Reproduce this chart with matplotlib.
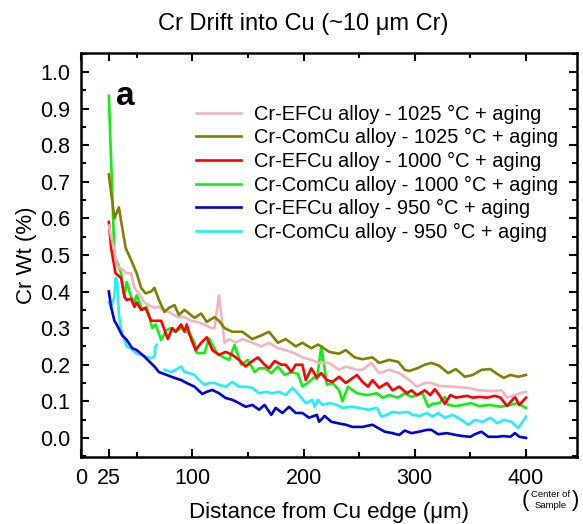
import matplotlib
matplotlib.use("Agg")
import matplotlib.pyplot as plt
import numpy as np
from matplotlib.ticker import MultipleLocator, FixedLocator, FormatStrFormatter

plt.rcParams['font.family'] = ['Liberation Sans', 'DejaVu Sans']

# ---- data ----
labels = [
    "Cr-EFCu alloy - 1025 °C + aging",
    "Cr-ComCu alloy - 1025 °C + aging",
    "Cr-EFCu alloy - 1000 °C + aging",
    "Cr-ComCu alloy - 1000 °C + aging",
    "Cr-EFCu alloy - 950 °C + aging",
    "Cr-ComCu alloy - 950 °C + aging",
]
colors = ["#f4b4be", "#808000", "#ff0000", "#11ee11", "#0000dd", "#22eeff"]

efcu1025_x = [25, 30, 32, 37, 41, 45, 48, 52, 57, 61,
              66, 70, 75, 81, 87, 93, 99, 104, 111, 117,
              120, 124, 129, 133, 139, 145, 154, 162, 169, 177,
              184, 193, 199, 207, 214, 223, 232, 238, 248, 253,
              261, 268, 277, 286, 295, 302, 309, 315, 322, 334,
              347, 358, 370, 378, 383, 388, 394, 400]
efcu1025_y = [0.58, 0.51, 0.47, 0.46, 0.45, 0.45, 0.41, 0.395, 0.37, 0.363,
              0.355, 0.358, 0.35, 0.34, 0.33, 0.33, 0.32, 0.317, 0.31, 0.30,
              0.30, 0.39, 0.26, 0.27, 0.26, 0.27, 0.26, 0.25, 0.26, 0.245,
              0.24, 0.23, 0.22, 0.213, 0.205, 0.205, 0.186, 0.195, 0.186, 0.186,
              0.205, 0.177, 0.186, 0.177, 0.158, 0.14, 0.15, 0.15, 0.142, 0.14,
              0.137, 0.13, 0.128, 0.13, 0.11, 0.115, 0.122, 0.126]

comcu1025_x = [25, 30, 34, 40, 45, 50, 54, 58, 63, 66,
               70, 75, 79, 84, 88, 93, 97, 102, 108, 113,
               120, 124, 129, 136, 145, 154, 162, 169, 177, 184,
               193, 199, 207, 213, 216, 223, 232, 238, 246, 253,
               262, 268, 277, 285, 291, 295, 302, 309, 315, 322,
               330, 337, 345, 352, 360, 368, 374, 380, 386, 393,
               400]
comcu1025_y = [0.72, 0.60, 0.63, 0.52, 0.486, 0.45, 0.41, 0.395, 0.40, 0.41,
               0.377, 0.344, 0.355, 0.363, 0.336, 0.35, 0.34, 0.328, 0.34, 0.317,
               0.33, 0.32, 0.30, 0.29, 0.29, 0.27, 0.28, 0.29, 0.26, 0.27,
               0.25, 0.26, 0.245, 0.255, 0.25, 0.235, 0.23, 0.24, 0.22, 0.215,
               0.22, 0.205, 0.213, 0.208, 0.186, 0.183, 0.19, 0.20, 0.205, 0.197,
               0.177, 0.188, 0.167, 0.172, 0.186, 0.188, 0.175, 0.164, 0.172, 0.167,
               0.172]

efcu1000_x = [25, 27, 31, 36, 39, 41, 45, 48, 50, 54,
              58, 63, 67, 72, 75, 78, 82, 85, 90, 93,
              95, 99, 103, 108, 113, 118, 124, 130, 136, 142,
              148, 154, 159, 165, 169, 174, 180, 184, 189, 193,
              199, 202, 207, 212, 216, 221, 226, 232, 238, 248,
              253, 258, 262, 268, 275, 280, 286, 293, 297, 302,
              309, 314, 318, 322, 327, 332, 337, 347, 352, 358,
              365, 372, 377, 383, 390, 394, 400]
efcu1000_y = [0.59, 0.52, 0.45, 0.437, 0.385, 0.377, 0.38, 0.358, 0.37, 0.35,
              0.355, 0.32, 0.32, 0.32, 0.295, 0.27, 0.30, 0.29, 0.31, 0.29,
              0.31, 0.27, 0.24, 0.26, 0.275, 0.24, 0.227, 0.235, 0.227, 0.213,
              0.195, 0.21, 0.22, 0.20, 0.19, 0.21, 0.20, 0.20, 0.18, 0.20,
              0.20, 0.158, 0.19, 0.165, 0.177, 0.158, 0.153, 0.167, 0.15, 0.172,
              0.153, 0.14, 0.158, 0.137, 0.15, 0.13, 0.14, 0.122, 0.13, 0.117,
              0.13, 0.117, 0.133, 0.117, 0.093, 0.117, 0.11, 0.115, 0.11, 0.112,
              0.11, 0.115, 0.11, 0.087, 0.112, 0.09, 0.11]

comcu1000_x = [25, 30, 36, 39, 41, 45, 48, 50, 55, 59,
               64, 67, 72, 77, 81, 85, 90, 94, 99, 102,
               104, 111, 115, 122, 127, 133, 138, 144, 150, 156,
               160, 166, 171, 177, 183, 189, 195, 199, 205, 210,
               212, 216, 221, 226, 232, 235, 240, 248, 257, 266,
               271, 277, 285, 291, 297, 302, 307, 312, 316, 322,
               327, 330, 337, 343, 350, 358, 368, 377, 386, 392,
               400]
comcu1000_y = [0.935, 0.50, 0.45, 0.385, 0.426, 0.385, 0.37, 0.39, 0.35, 0.358,
               0.30, 0.31, 0.268, 0.295, 0.30, 0.29, 0.30, 0.295, 0.277, 0.26,
               0.232, 0.232, 0.272, 0.232, 0.222, 0.213, 0.254, 0.20, 0.213, 0.18,
               0.19, 0.19, 0.177, 0.195, 0.172, 0.18, 0.175, 0.14, 0.153, 0.167,
               0.16, 0.25, 0.145, 0.15, 0.13, 0.10, 0.14, 0.122, 0.117, 0.122,
               0.11, 0.117, 0.11, 0.122, 0.112, 0.117, 0.122, 0.085, 0.093, 0.095,
               0.112, 0.09, 0.087, 0.09, 0.095, 0.087, 0.09, 0.085, 0.09, 0.095,
               0.082]

efcu950_x = [25, 27, 30, 32, 37, 41, 46, 50, 57, 61,
             66, 70, 77, 84, 90, 95, 102, 109, 113, 118,
             124, 130, 136, 142, 148, 154, 160, 165, 171, 175,
             181, 187, 193, 199, 205, 212, 214, 219, 225, 231,
             238, 244, 253, 262, 267, 273, 280, 286, 291, 297,
             304, 311, 315, 321, 329, 337, 343, 350, 354, 360,
             366, 374, 380, 386, 390, 394, 400]
efcu950_y = [0.40, 0.358, 0.32, 0.31, 0.28, 0.268, 0.245, 0.24, 0.222, 0.21,
             0.195, 0.18, 0.172, 0.164, 0.158, 0.15, 0.14, 0.12, 0.126, 0.131,
             0.122, 0.109, 0.104, 0.095, 0.085, 0.09, 0.077, 0.09, 0.063, 0.082,
             0.068, 0.085, 0.068, 0.068, 0.055, 0.063, 0.044, 0.06, 0.044, 0.04,
             0.036, 0.03, 0.03, 0.036, 0.027, 0.017, 0.013, 0.008, 0.02, 0.013,
             0.017, 0.022, 0.022, 0.01, 0.013, 0.008, 0.005, 0.003, 0.01, 0.017,
             0.003, 0.003, 0.005, 0.003, 0.013, 0.003, 0.0]

# the ComCu 950 trace has a gap between ~68 and ~75 um
comcu950_x = [25, 27, 30, 31, 32.5, 34, 36, 39, 41, 45,
              49, 54, 58, 63, 66, 67, 68, 71, 75, 81,
              85, 90, 93, 97, 102, 106, 111, 115, 120, 124,
              130, 136, 142, 148, 154, 160, 166, 172, 178, 184,
              190, 196, 202, 208, 210, 213, 217, 223, 230, 235,
              243, 250, 258, 266, 270, 275, 280, 286, 293, 298,
              304, 311, 316, 321, 327, 334, 342, 348, 354, 361,
              368, 374, 380, 387, 393, 397, 400]
comcu950_y = [0.37, 0.358, 0.385, 0.437, 0.43, 0.34, 0.295, 0.268, 0.25, 0.245,
              0.232, 0.227, 0.222, 0.218, 0.222, 0.25, 0.254, np.nan, 0.186, 0.18,
              0.186, 0.195, 0.18, 0.177, 0.172, 0.158, 0.145, 0.15, 0.15, 0.145,
              0.14, 0.153, 0.14, 0.14, 0.137, 0.122, 0.126, 0.122, 0.126, 0.117,
              0.137, 0.117, 0.095, 0.104, 0.085, 0.104, 0.09, 0.095, 0.09, 0.082,
              0.085, 0.082, 0.077, 0.082, 0.058, 0.063, 0.071, 0.068, 0.071, 0.063,
              0.06, 0.068, 0.058, 0.068, 0.055, 0.063, 0.049, 0.036, 0.049, 0.044,
              0.055, 0.04, 0.049, 0.044, 0.027, 0.044, 0.058]

series_x = [efcu1025_x, comcu1025_x, efcu1000_x, comcu1000_x, efcu950_x, comcu950_x]
series_y = [efcu1025_y, comcu1025_y, efcu1000_y, comcu1000_y, efcu950_y, comcu950_y]

x_ticks = [0, 25, 100, 200, 300, 400]
x_minor = [50, 150, 250, 350]

# ---- figure ----
fig = plt.figure(figsize=(5.83, 5.24), dpi=100)
ax = fig.add_axes([0.139, 0.128, 0.851, 0.771])

# draw the bottom series first so the upper ones sit on top like the original
order = [5, 4, 3, 2, 0, 1]
lines = {}
for i in order:
    ln, = ax.plot(series_x[i], series_y[i], color=colors[i], lw=1.9, label=labels[i])
    lines[i] = ln

ax.set_xlim(0, 446)
ax.set_ylim(-0.052, 1.052)

ax.xaxis.set_major_locator(FixedLocator(x_ticks))
ax.xaxis.set_minor_locator(FixedLocator(x_minor))
ax.yaxis.set_major_locator(MultipleLocator(0.1))
ax.yaxis.set_minor_locator(MultipleLocator(0.05))
ax.yaxis.set_major_formatter(FormatStrFormatter("%.1f"))

ax.tick_params(which="both", direction="in", top=True, right=True, width=1.5,
               labelsize=15.5)
ax.tick_params(axis="x", pad=8)
ax.tick_params(axis="y", pad=8)
ax.tick_params(which="major", length=6)
ax.tick_params(which="minor", length=3.5)
for sp in ax.spines.values():
    sp.set_linewidth(1.8)

ax.set_xlabel("Distance from Cu edge (\u03bcm)", fontsize=16, labelpad=9)
ax.set_ylabel("Cr Wt (%)", fontsize=16, labelpad=2)
fig.suptitle("Cr Drift into Cu (~10 \u03bcm Cr)", fontsize=17, x=0.52, y=0.975)

ax.text(0.07, 0.893, "a", transform=ax.transAxes, fontsize=24,
        fontweight="bold", va="center", ha="left")

ax.legend([lines[i] for i in range(6)], labels, loc="upper left",
          bbox_to_anchor=(0.232, 0.872), frameon=False, fontsize=14.4,
          handlelength=2.25, handletextpad=0.62, labelspacing=0.23,
          borderpad=0, borderaxespad=0)

# "(Center of Sample)" note under the 400 tick
fig.text(0.902, 0.044, "(", fontsize=16, ha="center", va="center")
fig.text(0.988, 0.044, ")", fontsize=16, ha="center", va="center")
fig.text(0.945, 0.046, "Center of\nSample", fontsize=6.8, ha="center",
         va="center", linespacing=1.25)

fig.savefig("out.png", dpi=100)
